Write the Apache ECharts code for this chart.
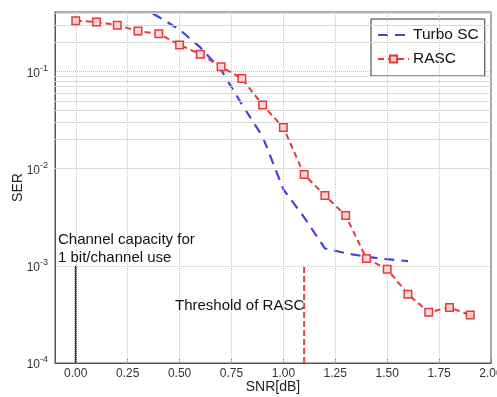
<!DOCTYPE html>
<html>
<head>
<meta charset="utf-8">
<script src="https://cdn.jsdelivr.net/npm/echarts@6/dist/echarts.min.js"></script>
<style>
  html, body { margin: 0; padding: 0; background: #fff; }
  #chart { width: 497px; height: 397px; }
</style>
</head>
<body>
<div id="chart"></div>
<script>
// SNR grid of the simulations (dB)
const snrRasc = [0.0, 0.1, 0.2, 0.3, 0.4, 0.5, 0.6, 0.7, 0.8, 0.9, 1.0, 1.1, 1.2, 1.3, 1.4, 1.5, 1.6, 1.7, 1.8, 1.9];
const serRasc = [0.333, 0.324, 0.300, 0.261, 0.245, 0.188, 0.151, 0.112, 0.0848, 0.0452, 0.0265, 0.0087, 0.0053, 0.0033, 0.00119, 0.000925, 0.00051, 0.000333, 0.000372, 0.000312];

const snrTurbo = [0.3, 0.4, 0.5, 0.6, 0.7, 0.8, 0.9, 1.0, 1.1, 1.2, 1.3, 1.4, 1.5, 1.6];
const serTurbo = [0.48, 0.364, 0.27, 0.177, 0.104, 0.0459, 0.0214, 0.00612, 0.00316, 0.00151, 0.00135, 0.00124, 0.00117, 0.00112];

// Reference markers
const capacitySnr = 0.0;       // channel capacity for 1 bit/channel use
const thresholdSnr = 1.1;      // RASC threshold
const markerSpan = [1e-4, 1e-3];

// Axis ticks
const xTicks = [0, 0.25, 0.5, 0.75, 1.0, 1.25, 1.5, 1.75, 2.0];
const yMin = 1e-4, yMax = 0.41;
const xMin = -0.1, xMax = 2.0;

// Minor log grid: 2..9 within each decade
const minorY = [];
for (let e = -4; e <= -1; e++) {
  for (let m = 2; m <= 9; m++) {
    const v = m * Math.pow(10, e);
    if (v < yMax) minorY.push(v);
  }
}

const FONT = '"Liberation Sans", Arial, Helvetica, sans-serif';
const RED = '#e5393b';
const BLUE = '#4343de';

const toPairs = (xs, ys) => xs.map((x, i) => [x, ys[i]]);

const chart = echarts.init(document.getElementById('chart'), null, { renderer: 'canvas' });

chart.setOption({
  animation: false,
  backgroundColor: '#fff',
  textStyle: { fontFamily: FONT },
  grid: {
    left: 55, right: 6, top: 12, bottom: 34,
    outerBoundsMode: 'none',
    containLabel: false,
    show: true, borderColor: '#555', borderWidth: 1, backgroundColor: '#fff'
  },
  legend: {
    data: [
      { name: 'Turbo SC', itemStyle: { color: 'rgba(0,0,0,0)', borderWidth: 0 } },
      { name: 'RASC' }
    ],
    orient: 'vertical',
    left: 371, top: 19,
    padding: [8, 6, 9, 6],
    itemGap: 8,
    itemWidth: 31,
    itemHeight: 9,
    backgroundColor: '#fff',
    borderColor: '#333',
    borderWidth: 1,
    textStyle: { fontFamily: FONT, fontSize: 15.5, color: '#111', padding: [0, 0, 0, -1] }
  },
  xAxis: {
    type: 'value',
    min: xMin, max: xMax,
    name: 'SNR[dB]',
    nameLocation: 'middle',
    nameGap: 17,
    nameMoveOverlap: false,
    nameTextStyle: { fontFamily: FONT, fontSize: 14, color: '#222', verticalAlign: 'top' },
    axisLine: { show: true, onZero: false, lineStyle: { color: '#555' } },
    axisTick: { show: true, inside: true, length: 4, customValues: xTicks, lineStyle: { color: '#777' } },
    axisLabel: {
      customValues: xTicks,
      fontFamily: FONT, fontSize: 12, color: '#333', margin: 5,
      formatter: v => v.toFixed(2)
    },
    splitLine: { show: false }
  },
  yAxis: {
    type: 'log',
    logBase: 10,
    min: yMin, max: yMax,
    name: 'SER',
    nameLocation: 'middle',
    nameRotate: 90,
    nameGap: 30,
    nameMoveOverlap: false,
    nameTextStyle: { fontFamily: FONT, fontSize: 14, color: '#222' },
    axisLine: { show: true, onZero: false, lineStyle: { color: '#555' } },
    axisTick: { show: false },
    axisLabel: {
      fontFamily: FONT, color: '#333', margin: 7,
      formatter: v => {
        const e = Math.round(Math.log10(v));
        if (Math.abs(Math.log10(v) - e) > 0.01) return '';
        return '{b|10}{s|' + e + '}';
      },
      rich: {
        b: { fontFamily: FONT, fontSize: 12, color: '#333', verticalAlign: 'bottom', lineHeight: 16 },
        s: { fontFamily: FONT, fontSize: 9, color: '#333', verticalAlign: 'top', lineHeight: 16 }
      }
    },
    splitLine: { show: true, lineStyle: { color: '#c4c4c4', type: 'dotted', width: 1 } }
  },
  series: [
    {
      // grid lines drawn through the axes' scales
      name: 'grid',
      type: 'line',
      data: [],
      z: 1,
      silent: true,
      markLine: {
        silent: true,
        symbol: 'none',
        animation: false,
        label: { show: false },
        data: [
          ...minorY.map(v => ({ yAxis: v, lineStyle: { color: '#dadada', type: 'solid', width: 1 } })),
          ...xTicks.slice(0, -1).map(v => ({ xAxis: v, lineStyle: { color: '#c8c8c8', type: 'dotted', width: 1 } }))
        ]
      }
    },
    {
      name: 'capacity',
      type: 'line',
      data: [[capacitySnr, markerSpan[0]], [capacitySnr, markerSpan[1]]],
      symbol: 'none',
      z: 3,
      lineStyle: { color: '#333', width: 2, type: 'solid' }
    },
    {
      name: 'threshold',
      type: 'line',
      data: [[thresholdSnr, markerSpan[0]], [thresholdSnr, markerSpan[1]]],
      symbol: 'none',
      z: 3,
      lineStyle: { color: '#d84848', width: 2, type: [6, 3] }
    },
    {
      name: 'Turbo SC',
      type: 'line',
      data: toPairs(snrTurbo, serTurbo),
      symbol: 'none',
      clip: true,
      z: 4,
      itemStyle: { color: BLUE },
      lineStyle: { color: BLUE, width: 2.2, type: [10, 7] }
    },
    {
      name: 'RASC',
      type: 'line',
      data: toPairs(snrRasc, serRasc),
      symbol: 'rect',
      symbolSize: 7.5,
      clip: true,
      z: 5,
      itemStyle: { color: '#ffd6d6', borderColor: RED, borderWidth: 1.5 },
      lineStyle: { color: RED, width: 2, type: [6, 4] }
    }
  ],
  graphic: [
    {
      type: 'text', left: 58, top: 231, z: 10,
      style: { text: 'Channel capacity for\n1 bit/channel use', fontFamily: FONT, fontSize: 15, lineHeight: 18, fill: '#111' }
    },
    {
      type: 'text', left: 175, top: 298, z: 10,
      style: { text: 'Threshold of RASC', fontFamily: FONT, fontSize: 15, fill: '#111' }
    }
  ]
});
</script>
</body>
</html>
